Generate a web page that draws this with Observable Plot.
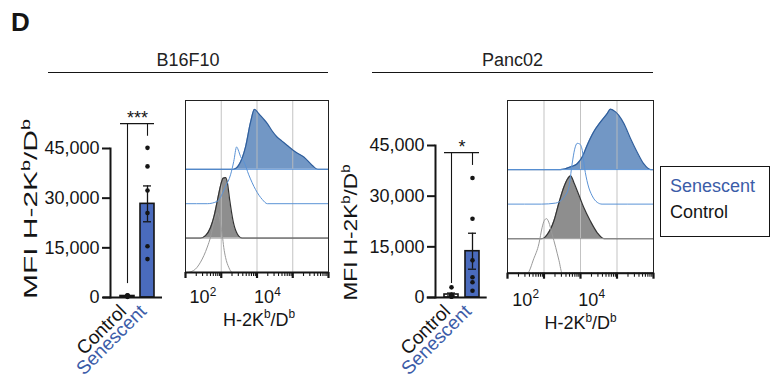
<!DOCTYPE html>
<html><head><meta charset="utf-8">
<script src="https://cdn.jsdelivr.net/npm/d3@7"></script>
<script src="https://cdn.jsdelivr.net/npm/@observablehq/plot@0.6"></script>
<style>
body{margin:0;background:#fff;}
#fig{position:relative;width:772px;height:379px;overflow:hidden;font-family:"Liberation Sans",Arial,Helvetica,sans-serif;color:#222;background:#fff;}
.abs{position:absolute;}
</style></head><body><div id="fig"></div>
<script>
// ---------- data ----------
const groups = ["Control", "Senescent"];
const b16Control = [200, 400, 600, 700, 500, 300];
const b16Senescent = [45200, 39600, 32300, 25500, 15500, 11600];
const pancControl = [3000, 800, 400, 300, 200, 600];
const pancSenescent = [35400, 23300, 11000, 6000, 4500, 2000];
const yTicks = [0, 15000, 30000, 45000];
const b16Sig = {label: "***", top: 52500, leftEnd: 4200, rightEnd: 48700};
const pancSig = {label: "*", top: 42900, leftEnd: 4150, rightEnd: 39100};
const histTickLabels = [100, 10000];
const histGrid = [100, 1000, 10000];
const yLabel = "MFI H-2K^b/D^b";
const xLabel = "H-2K^b/D^b";
// histograms: log10 fluorescence, relative count (lane units)
const b16SenStainedLog = [1, 2.34, 2.49, 2.68, 2.82, 2.93, 3.05, 3.15, 3.29, 3.42, 3.56, 3.7, 3.84, 4.08, 4.31, 4.54, 4.70, 5];
const b16SenStainedCnt = [0, 0, 0.12, 0.65, 1.37, 1.74, 1.62, 1.50, 1.33, 1.12, 0.94, 0.82, 0.70, 0.50, 0.36, 0.12, 0, 0];
const b16SenUnstLog = [1, 1.61, 1.89, 2.12, 2.26, 2.35, 2.43, 2.49, 2.54, 2.63, 2.77, 2.96, 3.15, 3.29, 5];
const b16SenUnstCnt = [0, 0, 0.07, 0.50, 0.84, 1.23, 1.65, 1.52, 1.37, 1.23, 0.84, 0.41, 0.12, 0, 0];
const b16CtrlStainedLog = [1, 1.42, 1.56, 1.70, 1.79, 1.89, 1.98, 2.05, 2.12, 2.17, 2.24, 2.33, 2.45, 2.59, 5];
const b16CtrlStainedCnt = [0, 0, 0.07, 0.31, 0.60, 1.08, 1.52, 1.74, 1.76, 1.62, 1.08, 0.50, 0.12, 0, 0];
const b16CtrlUnstLog = [1, 1.03, 1.23, 1.42, 1.61, 1.70, 1.79, 1.89, 1.93, 1.98, 2.03, 2.07, 2.12, 2.21, 2.31, 5];
const b16CtrlUnstCnt = [0, 0, 0.06, 0.30, 0.74, 1.03, 1.45, 1.74, 1.66, 1.40, 1.08, 0.73, 0.44, 0.15, 0, 0];
const pancSenStainedLog = [1, 2.45, 2.73, 2.91, 3.05, 3.18, 3.36, 3.55, 3.73, 3.82, 3.96, 4.05, 4.19, 4.37, 4.55, 4.73, 4.92, 5];
const pancSenStainedCnt = [0, 0, 0.08, 0.17, 0.37, 0.70, 1.09, 1.38, 1.62, 1.75, 1.67, 1.57, 1.33, 0.90, 0.51, 0.17, 0, 0];
const pancSenUnstLog = [1, 1.93, 2.32, 2.54, 2.68, 2.77, 2.84, 2.91, 2.98, 3.05, 3.11, 3.20, 3.32, 3.46, 3.59, 5];
const pancSenUnstCnt = [0, 0, 0.03, 0.19, 0.48, 1.16, 1.59, 1.76, 1.74, 1.55, 1.06, 0.58, 0.24, 0.05, 0, 0];
const pancCtrlStainedLog = [1, 1.95, 2.09, 2.27, 2.41, 2.54, 2.64, 2.73, 2.82, 2.95, 3.09, 3.27, 3.46, 3.64, 5];
const pancCtrlStainedCnt = [0, 0, 0.12, 0.51, 1.04, 1.48, 1.72, 1.82, 1.62, 1.28, 0.90, 0.51, 0.17, 0, 0];
const pancCtrlUnstLog = [1, 1.54, 1.72, 1.86, 1.95, 2.01, 2.07, 2.13, 2.22, 2.32, 2.41, 2.50, 5];
const pancCtrlUnstCnt = [0, 0, 0.42, 0.85, 1.33, 1.53, 1.58, 1.48, 1.14, 0.75, 0.37, 0, 0];

// ---------- styles ----------
const FONT = '"Liberation Sans", Arial, Helvetica, sans-serif';
const BLUE_TEXT = "#3b5ca8";
const BAR_BLUE = "#4a6bbd";
const SEN_FILL = "#7297c5", SEN_EDGE = "#2f5e9c", SEN_LINE = "#5b93d6";
const CTRL_FILL = "#8e8e8e", CTRL_EDGE = "#333333", CTRL_LINE = "#9a9a9a";
const INK = "#151515";

const fig = document.getElementById("fig");

function supify(root, fs) {
  const ns = "http://www.w3.org/2000/svg";
  root.querySelectorAll("text").forEach(t => {
    if (t.children.length) return;
    const s = t.textContent;
    if (!s.includes("^")) return;
    t.textContent = "";
    const parts = s.split(/(\^[^\s\/\^]+)/).filter(p => p.length);
    const shift = 0.42 * fs;
    let raised = false;
    parts.forEach(p => {
      const sp = document.createElementNS(ns, "tspan");
      if (p[0] === "^") {
        sp.textContent = p.slice(1);
        sp.setAttribute("font-size", (0.66 * fs) + "px");
        sp.setAttribute("dy", -shift);
        raised = true;
      } else {
        sp.textContent = p;
        if (raised) { sp.setAttribute("dy", shift); raised = false; }
      }
      t.appendChild(sp);
    });
  });
}

function place(el, left, top) {
  el.style.position = "absolute";
  el.style.left = left + "px";
  el.style.top = top + "px";
  fig.appendChild(el);
}

function barPanel(o) {
  const values = [
    ...o.control.map(v => ({group: "Control", value: v})),
    ...o.senescent.map(v => ({group: "Senescent", value: v}))
  ];
  const stats = groups.map(g => {
    const vs = g === "Control" ? o.control : o.senescent;
    const m = d3.mean(vs), se = d3.deviation(vs) / Math.sqrt(vs.length);
    return {group: g, mean: m, lo: m - se, hi: m + se, fill: g === "Control" ? "#ffffff" : BAR_BLUE};
  });
  const s = o.sig;
  const svg = Plot.plot({
    width: o.width, height: o.height,
    marginTop: o.marginTop, marginBottom: o.marginBottom,
    marginLeft: o.marginLeft, marginRight: o.marginRight,
    style: {fontFamily: FONT, fontSize: "18px", color: INK, background: "transparent", overflow: "visible"},
    x: {type: "band", domain: groups, range: o.xRange, paddingInner: o.pad, paddingOuter: 0, axis: null},
    y: {domain: [0, 45000], axis: null},
    color: {type: "identity"},
    marks: [
      Plot.barY(stats, {x: "group", y: "mean", fill: "fill", stroke: INK, strokeWidth: 1.6}),
      Plot.ruleX(stats, {x: "group", y1: "lo", y2: "hi", stroke: INK, strokeWidth: 1.3}),
      Plot.tickY(stats, {x: "group", y: "hi", insetLeft: 3, insetRight: 3, stroke: INK, strokeWidth: 1.3}),
      Plot.tickY(stats, {x: "group", y: "lo", insetLeft: 3, insetRight: 3, stroke: INK, strokeWidth: 1.3}),
      Plot.dot(values, {x: "group", y: "value", r: 2.3, fill: INK, stroke: "none"}),
      Plot.ruleY([0], {insetLeft: -o.axisExtend, stroke: INK, strokeWidth: 2}),
      Plot.frame({anchor: "left", stroke: INK, strokeWidth: 2}),
      Plot.axisY({ticks: yTicks, tickFormat: d3.format(","), tickSize: 8, tickPadding: 3, fontSize: 18, strokeWidth: 2, label: null}),
      Plot.ruleY([s], {y: "top", x1: () => "Control", x2: () => "Senescent", stroke: INK, strokeWidth: 1.1}),
      Plot.ruleX([{g: "Control", y1: s.leftEnd, y2: s.top}, {g: "Senescent", y1: s.rightEnd, y2: s.top}],
        {x: "g", y1: "y1", y2: "y2", stroke: INK, strokeWidth: 1.1}),
      Plot.text([s], {x: () => "Control", y: "top", text: "label", dx: o.starDx, dy: -5, fontSize: 18}),
      Plot.text(groups, {x: d => d, text: d => d, frameAnchor: "bottom", rotate: -45, textAnchor: "end",
        fill: d => d === "Control" ? INK : BLUE_TEXT, dy: 15, dx: 0, fontSize: 19}),
      Plot.text([yLabel], {text: d => d, frameAnchor: "left", textAnchor: "middle", rotate: -90,
        dx: o.labelDx, dy: o.labelDy, fontSize: 18, className: "ylab"})
    ]
  });
  supify(svg, 18);
  svg.querySelectorAll(".ylab text").forEach(t => {
    t.setAttribute("textLength", o.labelLen);
    t.setAttribute("lengthAdjust", "spacingAndGlyphs");
  });
  place(svg, o.left, o.top);
  return svg;
}

function rows(lx, cnt, base) {
  return lx.map((l, i) => ({x: 10 ** l, y1: base, y2: base + cnt[i]}));
}

function histPanel(o) {
  const cu = rows(o.cu[0], o.cu[1], 0), cs = rows(o.cs[0], o.cs[1], 1);
  const su = rows(o.su[0], o.su[1], 2), ss = rows(o.ss[0], o.ss[1], 3);
  const minor = [];
  for (let n = 1; n <= 4; n++) for (let k = 2; k <= 9; k++) minor.push(k * 10 ** n);
  const majors = [10, 100, 1000, 10000, 100000];
  const fmt = d => "10^" + Math.round(Math.log10(d));
  const svg = Plot.plot({
    width: o.width, height: o.height,
    marginTop: o.marginTop, marginBottom: o.marginBottom,
    marginLeft: o.marginLeft, marginRight: o.marginRight,
    style: {fontFamily: FONT, fontSize: "18px", color: INK, background: "transparent", overflow: "visible"},
    x: {type: "log", domain: [10, 100000], label: null},
    y: {domain: [0, 5], axis: null},
    marks: [
      Plot.areaY(ss, {x: "x", y1: "y1", y2: "y2", fill: SEN_FILL, curve: "monotone-x"}),
      Plot.areaY(cs, {x: "x", y1: "y1", y2: "y2", fill: CTRL_FILL, curve: "monotone-x"}),
      Plot.ruleX(histGrid, {stroke: "#bdbdbd", strokeWidth: 1, strokeOpacity: 0.9}),
      Plot.lineY(ss, {x: "x", y: "y2", stroke: SEN_EDGE, strokeWidth: 1.2, curve: "monotone-x"}),
      Plot.lineY(cs, {x: "x", y: "y2", stroke: CTRL_EDGE, strokeWidth: 1.2, curve: "monotone-x"}),
      Plot.ruleY([3], {stroke: SEN_LINE, strokeWidth: 1}),
      Plot.ruleY([1], {stroke: "#9a9a9a", strokeWidth: 1}),
      Plot.lineY(su, {x: "x", y: "y2", stroke: SEN_LINE, strokeWidth: 1, curve: "monotone-x"}),
      Plot.lineY(cu, {x: "x", y: "y2", stroke: CTRL_LINE, strokeWidth: 1, curve: "monotone-x"}),
      Plot.frame({stroke: "#222", strokeWidth: 1}),
      Plot.ruleY([0], {stroke: INK, strokeWidth: 2}),
      Plot.axisX({ticks: minor, tickSize: 4, tickFormat: () => "", strokeWidth: 1.1, label: null}),
      Plot.axisX({ticks: majors, tickSize: 6, tickFormat: () => "", strokeWidth: 2.2, label: null}),
      Plot.axisX({ticks: histTickLabels.slice(0, 1), tickSize: 0, tickPadding: o.tickPad, tickFormat: fmt,
        textAnchor: "end", dx: -5, fontSize: 18, label: null}),
      Plot.axisX({ticks: histTickLabels.slice(1), tickSize: 0, tickPadding: o.tickPad, tickFormat: fmt,
        textAnchor: "end", dx: -12, fontSize: 18, label: null}),
      Plot.text([xLabel], {text: d => d, frameAnchor: "bottom", dy: o.labelDy, dx: o.labelDx, fontSize: 18})
    ]
  });
  supify(svg, 18);
  place(svg, o.left, o.top);
  return svg;
}

// ---------- panels ----------
barPanel({control: b16Control, senescent: b16Senescent, sig: b16Sig,
  left: 0, top: 80, width: 175, height: 300, marginTop: 68, marginBottom: 83, marginLeft: 110, marginRight: 13,
  xRange: [120, 154.5], pad: 0.32, axisExtend: 7, starDx: 10, labelDx: -79, labelDy: -14, labelLen: 180});
histPanel({cu: [b16CtrlUnstLog, b16CtrlUnstCnt], cs: [b16CtrlStainedLog, b16CtrlStainedCnt],
  su: [b16SenUnstLog, b16SenUnstCnt], ss: [b16SenStainedLog, b16SenStainedCnt],
  left: 175, top: 80, width: 160, height: 300, marginTop: 20, marginBottom: 108, marginLeft: 10, marginRight: 7,
  tickPad: 18, labelDy: 53, labelDx: 2});
barPanel({control: pancControl, senescent: pancSenescent, sig: pancSig,
  left: 330, top: 80, width: 170, height: 300, marginTop: 65, marginBottom: 83, marginLeft: 105, marginRight: 13.3,
  xRange: [113.7, 149], pad: 0.34, axisExtend: 8.3, starDx: 10.6, labelDx: -84, labelDy: 11, labelLen: 136});
histPanel({cu: [pancCtrlUnstLog, pancCtrlUnstCnt], cs: [pancCtrlStainedLog, pancCtrlStainedCnt],
  su: [pancSenUnstLog, pancSenUnstCnt], ss: [pancSenStainedLog, pancSenStainedCnt],
  left: 500, top: 80, width: 160, height: 300, marginTop: 20, marginBottom: 107.3, marginLeft: 7, marginRight: 7,
  tickPad: 20, labelDy: 56, labelDx: 0});

// ---------- titles / legend ----------
function div(html, css) {
  const d = document.createElement("div");
  d.className = "abs";
  d.innerHTML = html;
  Object.assign(d.style, css);
  fig.appendChild(d);
  return d;
}
div("D", {left: "11px", top: "9px", fontSize: "26px", fontWeight: "bold", lineHeight: "26px", color: INK});
div("B16F10", {left: "48px", top: "50px", width: "280px", height: "22px", textAlign: "center", fontSize: "18px", lineHeight: "20px", borderBottom: "1.5px solid " + INK});
div("Panc02", {left: "372px", top: "50px", width: "281px", height: "22px", textAlign: "center", fontSize: "18px", lineHeight: "20px", borderBottom: "1.5px solid " + INK});
div("", {left: "660px", top: "166px", width: "108px", height: "69px", border: "1.3px solid " + INK});
div("Senescent", {left: "670px", top: "176px", fontSize: "18px", lineHeight: "20px", color: BLUE_TEXT});
div("Control", {left: "670px", top: "202px", fontSize: "18px", lineHeight: "20px", color: INK});
</script></body></html>
